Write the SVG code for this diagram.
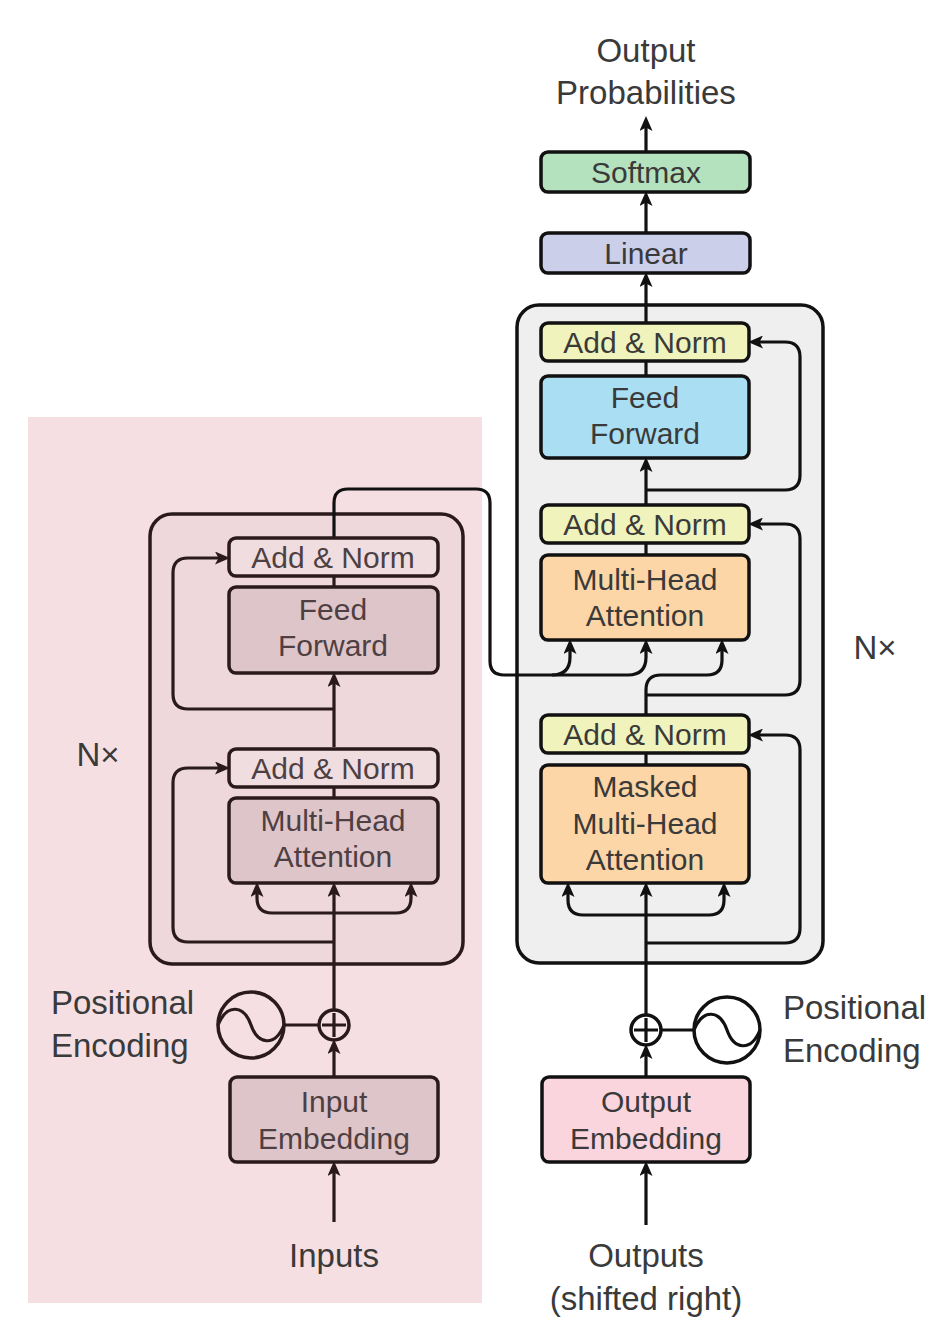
<svg xmlns="http://www.w3.org/2000/svg" width="952" height="1344" viewBox="0 0 952 1344">
<defs>
<style>
.t{font-family:"Liberation Sans",Arial,sans-serif;font-size:30px;fill:#3a3a3a;text-anchor:middle}
.te{fill:#4e3f42}
.big{font-family:"Liberation Sans",Arial,sans-serif;font-size:33px;fill:#3a3a3a}
.box{stroke:#111;stroke-width:3.5}
.ebox{stroke:#2a1a1c;stroke-width:3.5}
.ln{fill:none;stroke:#111;stroke-width:3.2}
.eln{fill:none;stroke:#2a1a1c;stroke-width:3.2}
</style>
<marker id="ah" markerUnits="userSpaceOnUse" markerWidth="15" markerHeight="13" viewBox="0 0 15 13" refX="8" refY="6.5" orient="auto">
<path d="M0,0 L15,6.5 L0,13 L3.5,6.5 Z" fill="#111"/>
</marker>
<marker id="ahe" markerUnits="userSpaceOnUse" markerWidth="15" markerHeight="13" viewBox="0 0 15 13" refX="8" refY="6.5" orient="auto">
<path d="M0,0 L15,6.5 L0,13 L3.5,6.5 Z" fill="#2a1a1c"/>
</marker>
</defs>
<rect width="952" height="1344" fill="#ffffff"/>
<rect id="encoder-bg" x="28" y="417" width="454" height="886" fill="#f5dfe2"/>

<g id="encoder-stack"><rect x="150" y="514" width="313" height="450" rx="22" fill="#eed8db" class="ebox"/></g>
<g id="decoder-stack"><rect x="517" y="305" width="306" height="658" rx="22" fill="#efefef" class="box"/></g>

<g id="connectors">
<path class="ln" d="M646,152 V123" marker-end="url(#ah)"/>
<path class="ln" d="M646,233 V198" marker-end="url(#ah)"/>
<path class="ln" d="M646,323 V279" marker-end="url(#ah)"/>
<path class="ln" d="M646,376 V361"/>
<path class="ln" d="M646,505 V464" marker-end="url(#ah)"/>
<path class="ln" d="M646,490 H785 Q800,490 800,475 V357 Q800,342 785,342 H755" marker-end="url(#ah)"/>
<path class="ln" d="M646,555 V543"/>
<path class="ln" d="M646,715 V690 Q646,675 661,675 H707 Q722,675 722,660 V646" marker-end="url(#ah)"/>
<path class="ln" d="M646,695 H785 Q800,695 800,680 V539 Q800,524 785,524 H755" marker-end="url(#ah)"/>
<path class="ln" d="M646,765 V753"/>
<path class="ln" d="M646,1015 V889" marker-end="url(#ah)"/>
<path class="ln" d="M646,915 H583 Q568,915 568,900 V889" marker-end="url(#ah)"/>
<path class="ln" d="M646,915 H709 Q724,915 724,900 V889" marker-end="url(#ah)"/>
<path class="ln" d="M646,943 H785 Q800,943 800,928 V750 Q800,735 785,735 H755" marker-end="url(#ah)"/>
<path class="ln" d="M646,1077 V1051" marker-end="url(#ah)"/>
<path class="ln" d="M661,1030 H694"/>
<path class="ln" d="M646,1225 V1168" marker-end="url(#ah)"/>
<path class="eln" d="M334,587 V576"/>
<path class="eln" d="M334,747 V679" marker-end="url(#ahe)"/>
<path class="eln" d="M334,709 H188 Q173,709 173,694 V573 Q173,558 188,558 H223" marker-end="url(#ahe)"/>
<path class="eln" d="M334,798 V787"/>
<path class="eln" d="M334,1010 V889" marker-end="url(#ahe)"/>
<path class="eln" d="M334,913 H272 Q257,913 257,898 V889" marker-end="url(#ahe)"/>
<path class="eln" d="M334,913 H396 Q411,913 411,898 V889" marker-end="url(#ahe)"/>
<path class="eln" d="M334,942 H188 Q173,942 173,927 V783 Q173,768 188,768 H223" marker-end="url(#ahe)"/>
<path class="eln" d="M334,1077 V1046" marker-end="url(#ahe)"/>
<path class="eln" d="M284,1025 H318"/>
<path class="eln" d="M334,1222 V1168" marker-end="url(#ahe)"/>
<path class="ln" d="M334,538 V503 Q334,489 348,489 H476 Q490,489 490,503 V661 Q490,675 504,675 H628 Q646,675 646,657 V646" marker-end="url(#ah)"/>
<path class="ln" d="M552,675 Q570,675 570,657 V646" marker-end="url(#ah)"/>
</g>

<g id="softmax"><rect x="541" y="152" width="209" height="40" rx="7" fill="#b4e2bf" class="box"/><text class="t" x="646" y="183">Softmax</text></g>
<g id="linear"><rect x="541" y="233" width="209" height="40" rx="7" fill="#cbcfea" class="box"/><text class="t" x="646" y="264">Linear</text></g>
<g id="dec-addnorm3"><rect x="541" y="323" width="208" height="38" rx="7" fill="#f0f3bb" class="box"/><text class="t" x="645" y="353">Add &amp; Norm</text></g>
<g id="dec-ff"><rect x="541" y="376" width="208" height="82" rx="7" fill="#a9def3" class="box"/><text class="t" x="645" y="408">Feed</text><text class="t" x="645" y="444">Forward</text></g>
<g id="dec-addnorm2"><rect x="541" y="505" width="208" height="38" rx="7" fill="#f0f3bb" class="box"/><text class="t" x="645" y="535">Add &amp; Norm</text></g>
<g id="dec-mha"><rect x="541" y="555" width="208" height="85" rx="7" fill="#fcd6a6" class="box"/><text class="t" x="645" y="589.5">Multi-Head</text><text class="t" x="645" y="625.5">Attention</text></g>
<g id="dec-addnorm1"><rect x="541" y="715" width="208" height="38" rx="7" fill="#f0f3bb" class="box"/><text class="t" x="645" y="745">Add &amp; Norm</text></g>
<g id="dec-masked-mha"><rect x="541" y="765" width="208" height="118" rx="7" fill="#fcd6a6" class="box"/><text class="t" x="645" y="796.5">Masked</text><text class="t" x="645" y="833.5">Multi-Head</text><text class="t" x="645" y="869.5">Attention</text></g>
<g id="dec-plus"><circle cx="646" cy="1030" r="15" fill="#fff" class="box" stroke-width="3"/><path class="ln" d="M634,1030 H658 M646,1018 V1042" stroke-width="2.5"/></g>
<g id="dec-pe"><circle cx="727" cy="1030" r="33" fill="#fff" class="box" stroke-width="3"/><path class="ln" stroke-width="2.5" d="M694,1030 C703,1008 720,1010 727,1030 S751,1052 760,1030"/><text class="big" x="783" y="1019">Positional</text><text class="big" x="783" y="1062">Encoding</text></g>
<g id="output-embedding"><rect x="542" y="1077" width="208" height="85" rx="7" fill="#fbd5dd" class="box"/><text class="t" x="646" y="1111.5">Output</text><text class="t" x="646" y="1148.5">Embedding</text></g>

<g id="enc-addnorm2"><rect x="229" y="538" width="209" height="38" rx="7" fill="#efdde0" class="ebox"/><text class="t te" x="333" y="568">Add &amp; Norm</text></g>
<g id="enc-ff"><rect x="229" y="587" width="209" height="86" rx="7" fill="#dec5c9" class="ebox"/><text class="t te" x="333" y="620">Feed</text><text class="t te" x="333" y="656">Forward</text></g>
<g id="enc-addnorm1"><rect x="229" y="749" width="209" height="38" rx="7" fill="#efdde0" class="ebox"/><text class="t te" x="333" y="779">Add &amp; Norm</text></g>
<g id="enc-mha"><rect x="229" y="798" width="209" height="85" rx="7" fill="#dec5c9" class="ebox"/><text class="t te" x="333" y="831">Multi-Head</text><text class="t te" x="333" y="867">Attention</text></g>
<g id="enc-plus"><circle cx="334" cy="1025" r="15" fill="#f5dfe2" class="ebox" stroke-width="3"/><path class="eln" d="M322,1025 H346 M334,1013 V1037" stroke-width="2.5"/></g>
<g id="enc-pe"><circle cx="251" cy="1025" r="33" fill="#f5dfe2" class="ebox" stroke-width="3"/><path class="eln" stroke-width="2.5" d="M218,1025 C227,1003 244,1005 251,1025 S275,1047 284,1025"/><text class="big" x="51" y="1014" fill="#4e3f42">Positional</text><text class="big" x="51" y="1057" fill="#4e3f42">Encoding</text></g>
<g id="input-embedding"><rect x="230" y="1077" width="208" height="85" rx="7" fill="#dec5c9" class="ebox"/><text class="t te" x="334" y="1111.5">Input</text><text class="t te" x="334" y="1148.5">Embedding</text></g>

<g id="labels">
<text class="big" x="646" y="62" text-anchor="middle" font-size="34">Output</text>
<text class="big" x="646" y="104" text-anchor="middle" font-size="34">Probabilities</text>
<text class="big" x="334" y="1267" text-anchor="middle" fill="#4e3f42">Inputs</text>
<text class="big" x="646" y="1267" text-anchor="middle">Outputs</text>
<text class="big" x="646" y="1310" text-anchor="middle">(shifted right)</text>
<text class="big" x="98" y="766" text-anchor="middle" fill="#4e3f42">N×</text>
<text class="big" x="875" y="659" text-anchor="middle">N×</text>
</g>
</svg>
